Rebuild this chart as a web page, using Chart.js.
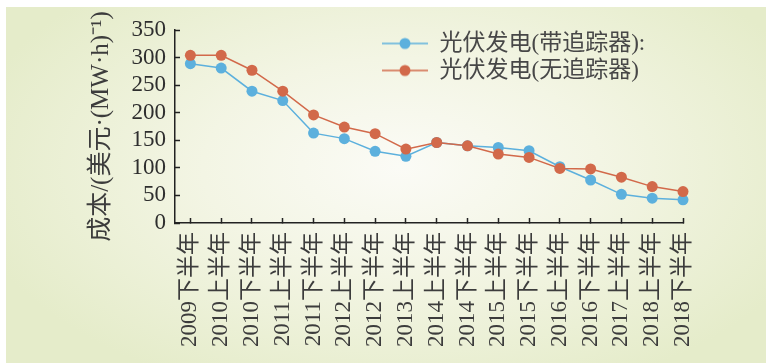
<!DOCTYPE html>
<html>
<head>
<meta charset="utf-8">
<script src="https://cdn.jsdelivr.net/npm/chart.js@4/dist/chart.umd.min.js"></script>
<style>
  body { margin: 0; background: #fff; }
  #wrap { position: relative; width: 766px; height: 363px; background: #fff; overflow: hidden; }
  #bg {
    position: absolute; left: 6px; top: 7px; right: 0; bottom: 0;
    background: radial-gradient(ellipse 58% 68% at 52% 45%, #fbfbf6 0%, #f3f5e4 45%, #e5ecca 100%);
  }
  #chart { position: absolute; left: 0; top: 0; }
</style>
</head>
<body>
<div id="wrap">
  <div id="bg"></div>
  <canvas id="chart" width="766" height="363"></canvas>
</div>
<script>
// DATA

const periods = [
    '2009下半年', '2010上半年', '2010下半年', '2011上半年', '2011下半年',
    '2012上半年', '2012下半年', '2013上半年', '2014上半年', '2014下半年',
    '2015上半年', '2015下半年', '2016上半年', '2016下半年', '2017上半年',
    '2018上半年', '2018下半年'
];

const withTracker = [289, 281, 239, 222, 163, 153, 130, 121, 146, 140, 137, 131, 102, 78, 52, 45, 42];
const noTracker   = [304, 304, 277, 239, 196, 174, 162, 134, 146, 140, 125, 119, 99, 98, 83, 66, 57];

const yTicks = [0, 50, 100, 150, 200, 250, 300, 350];

const seriesNames = ['光伏发电(带追踪器):', '光伏发电(无追踪器)'];
const seriesColors = ['#5cb0dd', '#d2694a'];


// LEGEND ICONS (line with a dot)

function makeIcon(color) {
    const c = document.createElement('canvas');
    c.width = 46;
    c.height = 14;
    const g = c.getContext('2d');
    g.strokeStyle = color;
    g.lineWidth = 1.5;
    g.beginPath();
    g.moveTo(0, 7);
    g.lineTo(46, 7);
    g.stroke();
    g.fillStyle = color;
    g.beginPath();
    g.arc(23, 7, 5.5, 0, Math.PI * 2);
    g.fill();
    return c;
}

const icons = seriesColors.map(makeIcon);


// move legend into the upper right of the plot
const legendMover = {
    id: 'legendMover',
    afterLayout(chart) {
        const lg = chart.legend;
        const w = lg.width;
        lg.left = chart.chartArea.left + 203;
        lg.right = lg.left + w;
        lg.top = chart.chartArea.top - 2;
    }
};

const serif = "'Liberation Serif', 'Noto Sans CJK SC', serif";

const ctx = document.getElementById('chart');

new Chart(ctx, {
    type: 'line',

    data: {
        datasets: [{
            label: seriesNames[0],
            data: withTracker.map((v, i) => ({ x: i, y: v })),
            borderColor: seriesColors[0],
            backgroundColor: seriesColors[0],
            borderWidth: 1.5,
            pointRadius: 5.5,
            pointBorderWidth: 0,
            order: 1,
            clip: false
        }, {
            label: seriesNames[1],
            data: noTracker.map((v, i) => ({ x: i, y: v })),
            borderColor: seriesColors[1],
            backgroundColor: seriesColors[1],
            borderWidth: 1.5,
            pointRadius: 5.5,
            pointBorderWidth: 0,
            order: 0,
            clip: false
        }]
    },

    options: {
        responsive: false,
        animation: false,
        devicePixelRatio: 1,

        layout: {
            padding: { top: 30, right: 83, left: 0, bottom: 0 }
        },

        scales: {
            x: {
                type: 'linear',
                min: -0.5,
                max: periods.length - 1,
                afterBuildTicks: (scale) => {
                    scale.ticks = periods.map((p, i) => ({ value: i }));
                },
                afterFit: (scale) => { scale.height = 140; },
                border: { color: '#222', width: 1.5 },
                grid: { drawOnChartArea: false, tickLength: -5, color: '#222', tickWidth: 1.5 },
                ticks: {
                    autoSkip: false,
                    minRotation: 90,
                    maxRotation: 90,
                    padding: 14,
                    color: '#3c3c3c',
                    font: { family: serif, size: 23 },
                    callback: (v) => periods[v]
                }
            },
            y: {
                min: 0,
                max: 350,
                afterBuildTicks: (scale) => {
                    scale.ticks = yTicks.map(v => ({ value: v }));
                },
                afterFit: (scale) => { scale.width = 175; },
                border: { color: '#222', width: 1.5 },
                grid: { drawOnChartArea: false, tickLength: -5, color: '#222', tickWidth: 1.5 },
                ticks: {
                    autoSkip: false,
                    padding: 14,
                    color: '#2e2e2e',
                    font: { family: serif, size: 23 }
                },
                title: {
                    display: true,
                    text: '成本/(美元·(MW·h)⁻¹)',
                    color: '#3c3c3c',
                    font: { family: serif, size: 25 },
                    padding: { top: 86, bottom: 0 }
                }
            }
        },

        plugins: {
            legend: {
                position: 'chartArea',
                align: 'start',
                labels: {
                    usePointStyle: true,
                    pointStyleWidth: 46,
                    padding: 4,
                    color: '#474747',
                    font: { family: serif, size: 23 },
                    sort: (a, b) => a.datasetIndex - b.datasetIndex,
                    generateLabels: (chart) =>
                        Chart.defaults.plugins.legend.labels.generateLabels(chart)
                            .map(item => ({ ...item, pointStyle: icons[item.datasetIndex] }))
                }
            },
            tooltip: { enabled: false }
        }
    },

    plugins: [legendMover]
});
</script>
</body>
</html>
